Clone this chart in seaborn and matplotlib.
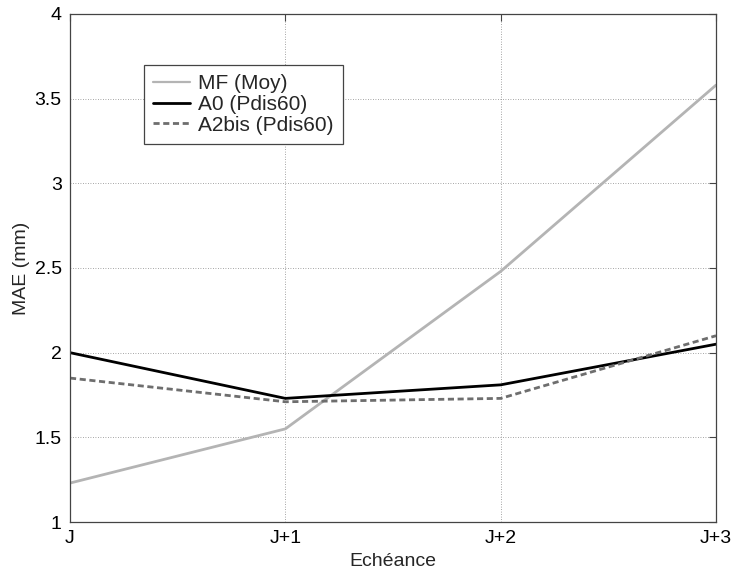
import matplotlib
matplotlib.use('Agg')
import matplotlib.pyplot as plt
import seaborn as sns
import pandas as pd

echeances = ['J', 'J+1', 'J+2', 'J+3']
mf_moy = [1.23, 1.55, 2.48, 3.58]
a0_pdis60 = [2.00, 1.73, 1.81, 2.05]
a2bis_pdis60 = [1.85, 1.71, 1.73, 2.10]

sns.set_style('white')
plt.rcParams['font.family'] = ['Liberation Sans', 'DejaVu Sans']

df = pd.DataFrame({
    'x': list(range(4)) * 3,
    'MAE': mf_moy + a0_pdis60 + a2bis_pdis60,
    'serie': ['MF (Moy)'] * 4 + ['A0 (Pdis60)'] * 4 + ['A2bis (Pdis60)'] * 4,
})

fig = plt.figure(figsize=(7.31, 5.71), dpi=100)
ax = fig.add_axes([0.0958, 0.0858, 0.8837, 0.8897])

palette = {'MF (Moy)': '#b4b4b4', 'A0 (Pdis60)': '#000000', 'A2bis (Pdis60)': '#6e6e6e'}
sns.lineplot(data=df, x='x', y='MAE', hue='serie', style='serie',
             palette=palette,
             dashes={'MF (Moy)': '', 'A0 (Pdis60)': '', 'A2bis (Pdis60)': (2.2, 1.3)},
             linewidth=2, ax=ax)
for ln in ax.get_lines():
    if ln.get_label() == 'MF (Moy)':
        ln.set_linewidth(1.6)

ax.set_xlim(0, 3)
ax.set_ylim(1, 4)
ax.set_xticks(range(4))
ax.set_xticklabels(echeances)
ax.set_yticks([1, 1.5, 2, 2.5, 3, 3.5, 4])
ax.set_yticklabels(['1', '1.5', '2', '2.5', '3', '3.5', '4'])
ax.tick_params(direction='in', top=True, right=True, length=5, width=0.8,
               colors='#444444', labelcolor='black', labelsize=14, pad=6)
ax.grid(True, linestyle=(0, (1, 2)), color='#888888', linewidth=0.6)
for s in ax.spines.values():
    s.set_color('#444444')
    s.set_linewidth(0.9)

ax.set_xlabel('Echéance', fontsize=14, labelpad=4)
ax.set_ylabel('MAE (mm)', fontsize=14, labelpad=3)

leg = ax.legend(loc='upper left', bbox_to_anchor=(0.1146, 0.8996), fontsize=15,
                frameon=True, fancybox=False, framealpha=1, edgecolor='#444444',
                borderpad=0.45, borderaxespad=0, labelspacing=0.08,
                handlelength=1.75, handletextpad=0.4)
leg.get_frame().set_linewidth(0.9)

fig.savefig('out.png', dpi=100)
